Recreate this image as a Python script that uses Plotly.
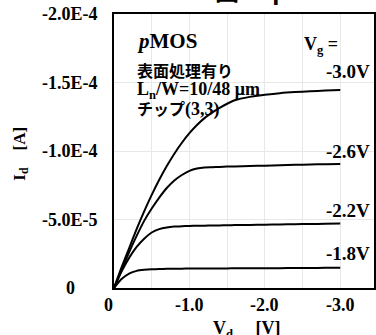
import plotly.graph_objects as go

# Drain voltage sweep [V]
vd = [0, -0.1, -0.2, -0.3, -0.4, -0.5, -0.6, -0.7, -0.8, -0.9, -1.0, -1.1, -1.2,
      -1.3, -1.4, -1.5, -1.6, -1.8, -2.0, -2.2, -2.4, -2.6, -2.8, -3.0]

# Drain current magnitude [uA] for each gate voltage
id_vg30 = [0, 15, 29, 43, 56, 68, 79, 89, 98, 106, 113, 119, 124,
           128, 131.5, 134.5, 137, 139.5, 141, 142.2, 143, 143.6, 144.1, 144.6]
id_vg26 = [0, 13, 26, 38, 49, 58, 66, 73, 78.5, 82.5, 85.5, 87.2, 88,
           88.2, 88.4, 88.6, 88.7, 89, 89.3, 89.6, 89.9, 90.2, 90.4, 90.6]
id_vg22 = [0, 12, 22, 30, 36, 40.5, 43, 44.2, 44.8, 45.1, 45.3, 45.4, 45.5,
           45.6, 45.7, 45.8, 45.9, 46.0, 46.2, 46.4, 46.6, 46.7, 46.9, 47.0]
id_vg18 = [0, 6.5, 10.5, 12.5, 13.3, 13.7, 13.9, 14.0, 14.1, 14.1, 14.2, 14.2, 14.2,
           14.3, 14.3, 14.3, 14.4, 14.4, 14.5, 14.5, 14.6, 14.6, 14.7, 14.8]

vg_labels = ["-3.0V", "-2.6V", "-2.2V", "-1.8V"]
curves = [id_vg30, id_vg26, id_vg22, id_vg18]

y_tick_vals = [0, -5e-5, -1e-4, -1.5e-4, -2e-4]
y_tick_text = ["0", "-5.0E-5", "-1.0E-4", "-1.5E-4", "-2.0E-4"]
x_tick_vals = [0, -1.0, -2.0, -3.0]
x_tick_text = ["0", "-1.0", "-2.0", "-3.0"]

W, H = 376, 335
ML, MT, MB = 114, 14, 47
PW, PH = W - ML, H - MT - MB


def px(x):
    return (x - ML) / PW


def py(y):
    return (H - MB - y) / PH


SERIF = "Liberation Serif"
JP = "Noto Sans CJK JP"

fig = go.Figure()
for ua in curves:
    fig.add_trace(go.Scatter(
        x=vd, y=[-v * 1e-6 for v in ua], mode="lines",
        line=dict(color="black", width=2, shape="spline", smoothing=0.6),
        showlegend=False, hoverinfo="skip"))

ann = []


def label(x, y, text, family=SERIF, size=18, xanchor="left", **kw):
    ann.append(dict(x=x, y=y, text="<b>" + text + "</b>", showarrow=False,
                    xanchor=xanchor, yanchor=kw.pop("yanchor", "middle"),
                    font=dict(family=family, size=size, color="black"), **kw))


for v, t in zip(y_tick_vals, y_tick_text):
    label(px(70), v, t, xanchor="center", xref="paper", yref="y")
for v, t in zip(x_tick_vals, x_tick_text):
    label(v, py(305), t, xanchor="center", xref="x", yref="paper",
          xshift=-6 if v == 0 else 0)

# Axis titles
label(px(20), py(154), "I<sub>d</sub>    [A]", size=17, xanchor="center",
      textangle=-90, xref="paper", yref="paper")
label(px(248), py(329), "V<sub>d</sub>     [V]", xanchor="center",
      xref="paper", yref="paper")

# Device annotation block
label(px(135), py(41), "<i>p</i>MOS", size=21, xref="paper", yref="paper")
label(px(135), py(70), "表面処理有り", family=JP, size=16, xref="paper", yref="paper")
label(px(135), py(90), "L<sub>n</sub>/W=10/48 μm", xref="paper", yref="paper")
label(px(135), py(108),
      "チップ<span style='font-family:Liberation Serif;font-size:18px'>(3,3)</span>",
      family=JP, size=16, xref="paper", yref="paper")

# Gate-voltage labels
label(px(303), py(45), "V<sub>g</sub> =", xref="paper", yref="paper")
label_y = [71, 151, 210, 253]
for t, yy in zip(vg_labels, label_y):
    label(px(374), py(yy), t, size=19, xanchor="right", xref="paper", yref="paper")

# Caption running off the top edge
label(px(214), py(9), "図２ ｐＭＯＳの出力特性", family=JP, size=24,
      yanchor="bottom", xref="paper", yref="paper")

fig.update_layout(
    width=W, height=H, margin=dict(l=ML, r=0, t=MT, b=MB),
    paper_bgcolor="white", plot_bgcolor="white",
    annotations=ann,
    xaxis=dict(range=[0, -PW / 76.0], tickvals=[-0.5 * i for i in range(8)],
               showticklabels=False, showgrid=True, gridcolor="#e8e8e8", gridwidth=1,
               showline=True, linecolor="black", linewidth=2, mirror=True,
               zeroline=False, ticks=""),
    yaxis=dict(range=[0, -2e-4], tickvals=y_tick_vals, showticklabels=False,
               showgrid=True, gridcolor="#e8e8e8", gridwidth=1,
               showline=True, linecolor="black", linewidth=2, mirror=True,
               zeroline=False, ticks=""),
)

fig.write_html("out.html")
